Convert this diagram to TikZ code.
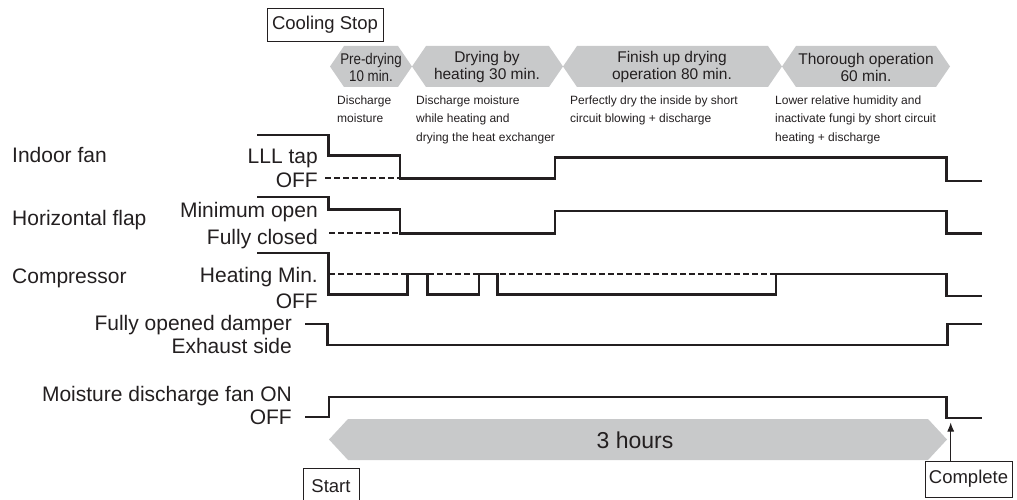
\documentclass[tikz,border=0pt]{standalone}
\usepackage{fontspec}
\setmainfont{Liberation Sans}
\usetikzlibrary{arrows.meta}
\definecolor{hexgray}{RGB}{200,201,202}
\definecolor{ink}{RGB}{35,31,32}
\begin{document}
\begin{tikzpicture}[x=1pt,y=-1pt,
  every node/.style={text=ink},
  lbl/.style={font=\fontsize{21}{25}\selectfont, inner sep=0, anchor=base west},
  rlbl/.style={font=\fontsize{21}{25}\selectfont, inner sep=0, anchor=base east},
  desc/.style={font=\fontsize{12}{18.5}\selectfont, align=left, anchor=north west, inner sep=0},
  hext/.style={font=\fontsize{15.5}{17}\selectfont, align=center, inner sep=0},
  tagbox/.style={draw=ink, line width=0.9, inner sep=0, font=\fontsize{18.5}{22}\selectfont},
  hexfill/.style={fill=hexgray},
  sig/.style={draw=ink, line width=2.6},
  dsh/.style={draw=ink, line width=2, dash pattern=on 5.5pt off 3.5pt}]
\useasboundingbox (0,0) rectangle (1017,500);

% ---- phase bars
\fill[hexfill] (330,66.5)--(344,46)--(398,46)--(412,66.5)--(398,87)--(344,87)--cycle;
\fill[hexfill] (412,66.5)--(426,46)--(549,46)--(563,66.5)--(549,87)--(426,87)--cycle;
\fill[hexfill] (563,66.5)--(577,46)--(768,46)--(782,66.5)--(768,87)--(577,87)--cycle;
\fill[hexfill] (782,66.5)--(796,46)--(936,46)--(950,66.5)--(936,87)--(796,87)--cycle;
\node[hext] (pre) at (371,67) {\scalebox{0.86}[1]{Pre-drying}\\\scalebox{0.86}[1]{10 min.}};
\node[hext] (dry) at (487,67) {Drying by\\heating 30 min.};
\node[hext] (fin) at (672,67) {Finish up drying\\operation 80 min.};
\node[hext] (tho) at (866,67) {Thorough operation\\60 min.};

% ---- descriptions
\node[desc] (d1) at (337,95.5) {Discharge\\moisture};
\node[desc] (d2) at (416,95.5) {Discharge moisture\\while heating and\\drying the heat exchanger};
\node[desc] (d3) at (570,95.5) {Perfectly dry the inside by short\\circuit blowing + discharge};
\node[desc] (d4) at (775,95.5) {Lower relative humidity and\\inactivate fungi by short circuit\\heating + discharge};

% ---- boxes
\node[tagbox, minimum width=116, minimum height=33] (cool) at (325,24.5) {Cooling Stop};
\node[tagbox, minimum width=56, minimum height=36] (start) at (331,486) {Start};
\node[tagbox, minimum width=87, minimum height=36] (complete) at (968.5,479) {Complete};

% ---- left labels
\node[lbl] (lfan) at (12,162.5) {Indoor fan};
\node[lbl] (lflap) at (12,225) {Horizontal flap};
\node[lbl] (lcomp) at (12,283) {Compressor};
\node[rlbl] (fanhi) at (318,163) {LLL tap};
\node[rlbl] (fanlo) at (318,187.5) {OFF};
\node[rlbl] (flaphi) at (318,217.5) {Minimum open};
\node[rlbl] (flaplo) at (318,244) {Fully closed};
\node[rlbl] (comphi) at (318,282.5) {Heating Min.};
\node[rlbl] (complo) at (318,308.5) {OFF};
\node[rlbl] (damhi) at (292,330.5) {Fully opened damper};
\node[rlbl] (damlo) at (292,353.5) {Exhaust side};
\node[rlbl] (mfhi) at (292,401.5) {Moisture discharge fan ON};
\node[rlbl] (mflo) at (292,424.5) {OFF};

% ---- signals
\draw[dsh] (325,178.3) -- (400,178.3);
\draw[sig] (257,135) -- (328.3,135) -- (328.3,155.5) -- (400,155.5) -- (400,178.3)
  -- (555,178.3) -- (555,157.5) -- (946.7,157.5) -- (946.7,181) -- (982,181);

\draw[dsh] (329,233.3) -- (400,233.3);
\draw[sig] (257,197) -- (328.3,197) -- (328.3,209.5) -- (400,209.5) -- (400,233.3)
  -- (555,233.3) -- (555,211) -- (946.7,211) -- (946.7,233.3) -- (982,233.3);

\draw[dsh] (329,274) -- (776,274);
\draw[sig] (257,253) -- (328.3,253) -- (328.3,294.5) -- (407.3,294.5) -- (407.3,274)
  -- (427.3,274) -- (427.3,294.5) -- (479,294.5) -- (479,274) -- (497.3,274)
  -- (497.3,294.5) -- (776,294.5) -- (776,274) -- (946.7,274) -- (946.7,296) -- (982,296);

\draw[sig] (305,324) -- (327.5,324) -- (327.5,345) -- (947.3,345) -- (947.3,324) -- (982,324);

\draw[sig] (305,417) -- (329,417) -- (329,397) -- (946.7,397) -- (946.7,418) -- (982,418);

% ---- 3 hours bar
\fill[hexfill] (329,439.5)--(348,419)--(928,419)--(947,439.5)--(928,460)--(348,460)--cycle;
\node[font=\fontsize{23}{27}\selectfont, inner sep=0, anchor=base] (hours) at (635,448) {3 hours};

% ---- complete arrow
\coordinate (ctip) at (950.7,422.5);
\draw[draw=ink, line width=1, -{Latex[length=9pt,width=7pt]}] (complete.north -| ctip) -- (ctip);
\end{tikzpicture}
\end{document}
